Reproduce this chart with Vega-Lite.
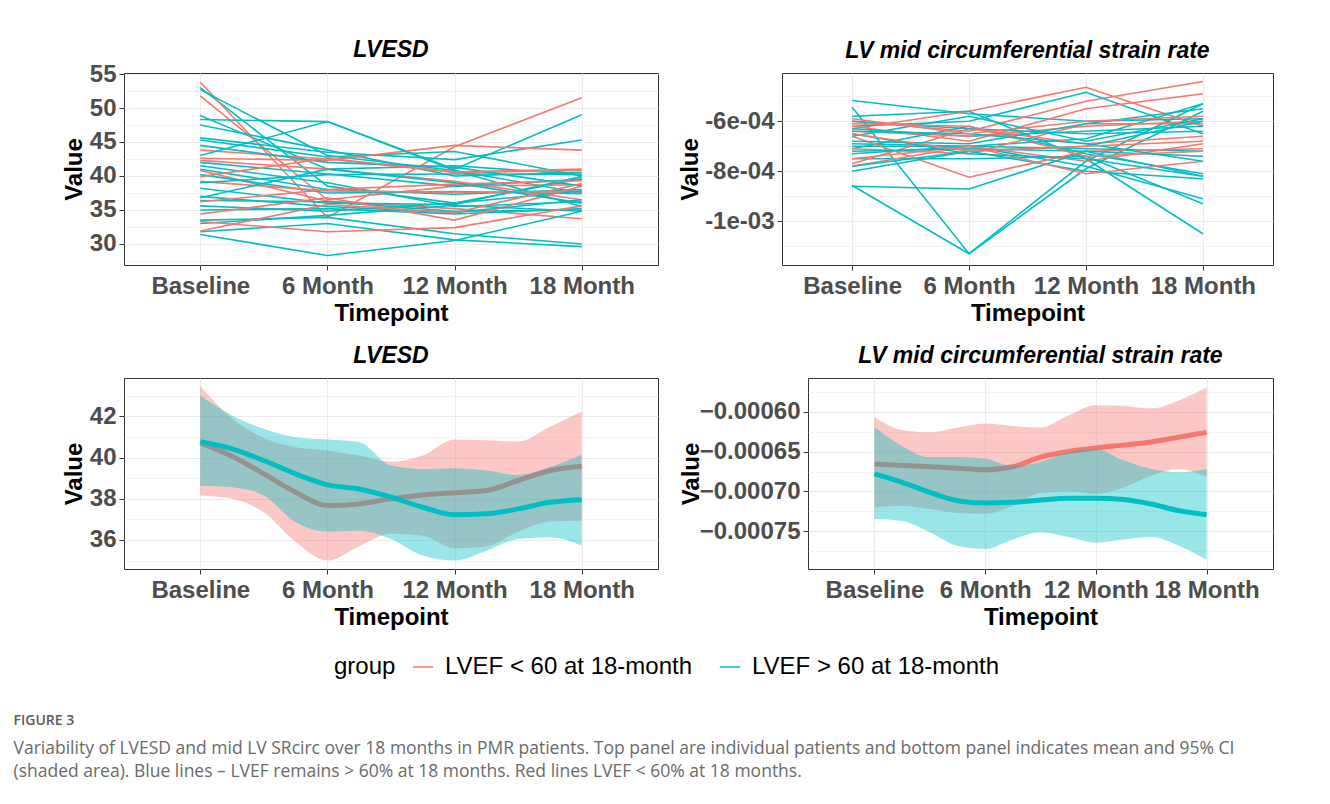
{
  "$schema": "https://vega.github.io/schema/vega-lite/v6.json",
  "background": "white",
  "padding": {"left": 13, "top": 38, "right": 0, "bottom": 0},
  "autosize": {"type": "pad"},
  "config": {
    "font": "Liberation Sans",
    "view": {"stroke": "#333333", "strokeWidth": 1},
    "axis": {"labelFont": "Liberation Sans", "labelFontSize": 24, "labelFontWeight": "bold", "labelColor": "#4D4D4D", "titleFont": "Liberation Sans", "titleFontSize": 24, "titleFontWeight": "bold", "titleColor": "#000000", "tickColor": "#333333", "tickSize": 5, "tickWidth": 1, "domain": false, "gridColor": "#EBEBEB", "gridWidth": 1.1, "labelOverlap": false, "labelFlush": false},
    "axisX": {"labelPadding": 4, "titlePadding": 3, "labelAngle": 0},
    "axisY": {"labelPadding": 3},
    "title": {"font": "Liberation Sans", "fontSize": 23, "fontStyle": "italic", "fontWeight": "bold", "color": "#000000", "baseline": "bottom", "offset": 10, "anchor": "middle"}
  },
  "title": {"text": "FIGURE 3", "subtitle": ["Variability of LVESD and mid LV SRcirc over 18 months in PMR patients. Top panel are individual patients and bottom panel indicates mean and 95% CI", "(shaded area). Blue lines – LVEF remains > 60% at 18 months. Red lines LVEF < 60% at 18 months."], "orient": "bottom", "anchor": "start", "frame": "bounds", "dx": -48, "offset": 35, "font": "Open Sans", "fontSize": 14, "fontWeight": 600, "fontStyle": "normal", "color": "#5a5a5a", "baseline": "top", "subtitleFont": "Open Sans", "subtitleFontSize": 17.5, "subtitleFontWeight": "normal", "subtitleFontStyle": "normal", "subtitleColor": "#6a6a6a", "subtitleLineHeight": 23, "subtitlePadding": 12},
  "datasets": {
    "lvesd": [
      {"id":"t1","g":"LVEF > 60 at 18-month","t":"Baseline","v":53.0},{"id":"t1","g":"LVEF > 60 at 18-month","t":"6 Month","v":38.5},{"id":"t1","g":"LVEF > 60 at 18-month","t":"12 Month","v":36.0},{"id":"t1","g":"LVEF > 60 at 18-month","t":"18 Month","v":39.6},
      {"id":"r1","g":"LVEF < 60 at 18-month","t":"Baseline","v":53.8},{"id":"r1","g":"LVEF < 60 at 18-month","t":"6 Month","v":33.9},{"id":"r1","g":"LVEF < 60 at 18-month","t":"12 Month","v":44.3},{"id":"r1","g":"LVEF < 60 at 18-month","t":"18 Month","v":51.5},
      {"id":"t2","g":"LVEF > 60 at 18-month","t":"Baseline","v":52.7},{"id":"t2","g":"LVEF > 60 at 18-month","t":"6 Month","v":43.0},{"id":"t2","g":"LVEF > 60 at 18-month","t":"12 Month","v":40.8},{"id":"t2","g":"LVEF > 60 at 18-month","t":"18 Month","v":37.5},
      {"id":"t3","g":"LVEF > 60 at 18-month","t":"Baseline","v":48.9},{"id":"t3","g":"LVEF > 60 at 18-month","t":"6 Month","v":41.0},{"id":"t3","g":"LVEF > 60 at 18-month","t":"12 Month","v":41.5},{"id":"t3","g":"LVEF > 60 at 18-month","t":"18 Month","v":40.2},
      {"id":"r2","g":"LVEF < 60 at 18-month","t":"Baseline","v":51.8},{"id":"r2","g":"LVEF < 60 at 18-month","t":"6 Month","v":36.5},{"id":"r2","g":"LVEF < 60 at 18-month","t":"12 Month","v":38.5},{"id":"r2","g":"LVEF < 60 at 18-month","t":"18 Month","v":38.7},
      {"id":"t4","g":"LVEF > 60 at 18-month","t":"Baseline","v":48.3},{"id":"t4","g":"LVEF > 60 at 18-month","t":"6 Month","v":48.0},{"id":"t4","g":"LVEF > 60 at 18-month","t":"12 Month","v":41.0},{"id":"t4","g":"LVEF > 60 at 18-month","t":"18 Month","v":49.0},
      {"id":"t5","g":"LVEF > 60 at 18-month","t":"Baseline","v":47.5},{"id":"t5","g":"LVEF > 60 at 18-month","t":"6 Month","v":43.8},{"id":"t5","g":"LVEF > 60 at 18-month","t":"12 Month","v":40.0},{"id":"t5","g":"LVEF > 60 at 18-month","t":"18 Month","v":40.5},
      {"id":"r3","g":"LVEF < 60 at 18-month","t":"Baseline","v":43.8},{"id":"r3","g":"LVEF < 60 at 18-month","t":"6 Month","v":42.5},{"id":"r3","g":"LVEF < 60 at 18-month","t":"12 Month","v":40.5},{"id":"r3","g":"LVEF < 60 at 18-month","t":"18 Month","v":40.8},
      {"id":"t6","g":"LVEF > 60 at 18-month","t":"Baseline","v":45.6},{"id":"t6","g":"LVEF > 60 at 18-month","t":"6 Month","v":43.5},{"id":"t6","g":"LVEF > 60 at 18-month","t":"12 Month","v":42.4},{"id":"t6","g":"LVEF > 60 at 18-month","t":"18 Month","v":45.3},
      {"id":"t7","g":"LVEF > 60 at 18-month","t":"Baseline","v":45.3},{"id":"t7","g":"LVEF > 60 at 18-month","t":"6 Month","v":42.8},{"id":"t7","g":"LVEF > 60 at 18-month","t":"12 Month","v":43.6},{"id":"t7","g":"LVEF > 60 at 18-month","t":"18 Month","v":40.0},
      {"id":"r4","g":"LVEF < 60 at 18-month","t":"Baseline","v":42.6},{"id":"r4","g":"LVEF < 60 at 18-month","t":"6 Month","v":42.3},{"id":"r4","g":"LVEF < 60 at 18-month","t":"12 Month","v":44.5},{"id":"r4","g":"LVEF < 60 at 18-month","t":"18 Month","v":43.8},
      {"id":"t8","g":"LVEF > 60 at 18-month","t":"Baseline","v":44.5},{"id":"t8","g":"LVEF > 60 at 18-month","t":"6 Month","v":42.0},{"id":"t8","g":"LVEF > 60 at 18-month","t":"12 Month","v":41.3},{"id":"t8","g":"LVEF > 60 at 18-month","t":"18 Month","v":38.5},
      {"id":"t9","g":"LVEF > 60 at 18-month","t":"Baseline","v":43.0},{"id":"t9","g":"LVEF > 60 at 18-month","t":"6 Month","v":48.0},{"id":"t9","g":"LVEF > 60 at 18-month","t":"12 Month","v":40.8},{"id":"t9","g":"LVEF > 60 at 18-month","t":"18 Month","v":35.5},
      {"id":"r5","g":"LVEF < 60 at 18-month","t":"Baseline","v":42.3},{"id":"r5","g":"LVEF < 60 at 18-month","t":"6 Month","v":41.0},{"id":"r5","g":"LVEF < 60 at 18-month","t":"12 Month","v":39.2},{"id":"r5","g":"LVEF < 60 at 18-month","t":"18 Month","v":36.5},
      {"id":"t10","g":"LVEF > 60 at 18-month","t":"Baseline","v":42.0},{"id":"t10","g":"LVEF > 60 at 18-month","t":"6 Month","v":40.3},{"id":"t10","g":"LVEF > 60 at 18-month","t":"12 Month","v":38.5},{"id":"t10","g":"LVEF > 60 at 18-month","t":"18 Month","v":39.5},
      {"id":"t11","g":"LVEF > 60 at 18-month","t":"Baseline","v":41.5},{"id":"t11","g":"LVEF > 60 at 18-month","t":"6 Month","v":39.0},{"id":"t11","g":"LVEF > 60 at 18-month","t":"12 Month","v":35.5},{"id":"t11","g":"LVEF > 60 at 18-month","t":"18 Month","v":36.2},
      {"id":"r6","g":"LVEF < 60 at 18-month","t":"Baseline","v":40.8},{"id":"r6","g":"LVEF < 60 at 18-month","t":"6 Month","v":36.3},{"id":"r6","g":"LVEF < 60 at 18-month","t":"12 Month","v":35.2},{"id":"r6","g":"LVEF < 60 at 18-month","t":"18 Month","v":33.7},
      {"id":"t12","g":"LVEF > 60 at 18-month","t":"Baseline","v":41.0},{"id":"t12","g":"LVEF > 60 at 18-month","t":"6 Month","v":38.0},{"id":"t12","g":"LVEF > 60 at 18-month","t":"12 Month","v":37.3},{"id":"t12","g":"LVEF > 60 at 18-month","t":"18 Month","v":38.0},
      {"id":"t13","g":"LVEF > 60 at 18-month","t":"Baseline","v":40.2},{"id":"t13","g":"LVEF > 60 at 18-month","t":"6 Month","v":37.5},{"id":"t13","g":"LVEF > 60 at 18-month","t":"12 Month","v":37.7},{"id":"t13","g":"LVEF > 60 at 18-month","t":"18 Month","v":37.4},
      {"id":"r7","g":"LVEF < 60 at 18-month","t":"Baseline","v":39.9},{"id":"r7","g":"LVEF < 60 at 18-month","t":"6 Month","v":42.6},{"id":"r7","g":"LVEF < 60 at 18-month","t":"12 Month","v":40.6},{"id":"r7","g":"LVEF < 60 at 18-month","t":"18 Month","v":41.0},
      {"id":"t14","g":"LVEF > 60 at 18-month","t":"Baseline","v":38.2},{"id":"t14","g":"LVEF > 60 at 18-month","t":"6 Month","v":36.0},{"id":"t14","g":"LVEF > 60 at 18-month","t":"12 Month","v":35.8},{"id":"t14","g":"LVEF > 60 at 18-month","t":"18 Month","v":39.9},
      {"id":"t15","g":"LVEF > 60 at 18-month","t":"Baseline","v":37.0},{"id":"t15","g":"LVEF > 60 at 18-month","t":"6 Month","v":35.5},{"id":"t15","g":"LVEF > 60 at 18-month","t":"12 Month","v":34.6},{"id":"t15","g":"LVEF > 60 at 18-month","t":"18 Month","v":36.5},
      {"id":"r8","g":"LVEF < 60 at 18-month","t":"Baseline","v":39.2},{"id":"r8","g":"LVEF < 60 at 18-month","t":"6 Month","v":37.8},{"id":"r8","g":"LVEF < 60 at 18-month","t":"12 Month","v":37.6},{"id":"r8","g":"LVEF < 60 at 18-month","t":"18 Month","v":37.7},
      {"id":"t16","g":"LVEF > 60 at 18-month","t":"Baseline","v":36.4},{"id":"t16","g":"LVEF > 60 at 18-month","t":"6 Month","v":36.2},{"id":"t16","g":"LVEF > 60 at 18-month","t":"12 Month","v":34.8},{"id":"t16","g":"LVEF > 60 at 18-month","t":"18 Month","v":35.0},
      {"id":"t17","g":"LVEF > 60 at 18-month","t":"Baseline","v":35.6},{"id":"t17","g":"LVEF > 60 at 18-month","t":"6 Month","v":34.8},{"id":"t17","g":"LVEF > 60 at 18-month","t":"12 Month","v":36.0},{"id":"t17","g":"LVEF > 60 at 18-month","t":"18 Month","v":37.8},
      {"id":"r9","g":"LVEF < 60 at 18-month","t":"Baseline","v":36.2},{"id":"r9","g":"LVEF < 60 at 18-month","t":"6 Month","v":38.0},{"id":"r9","g":"LVEF < 60 at 18-month","t":"12 Month","v":38.8},{"id":"r9","g":"LVEF < 60 at 18-month","t":"18 Month","v":39.3},
      {"id":"t18","g":"LVEF > 60 at 18-month","t":"Baseline","v":35.0},{"id":"t18","g":"LVEF > 60 at 18-month","t":"6 Month","v":35.2},{"id":"t18","g":"LVEF > 60 at 18-month","t":"12 Month","v":34.4},{"id":"t18","g":"LVEF > 60 at 18-month","t":"18 Month","v":35.2},
      {"id":"t19","g":"LVEF > 60 at 18-month","t":"Baseline","v":33.5},{"id":"t19","g":"LVEF > 60 at 18-month","t":"6 Month","v":33.9},{"id":"t19","g":"LVEF > 60 at 18-month","t":"12 Month","v":31.5},{"id":"t19","g":"LVEF > 60 at 18-month","t":"18 Month","v":30.0},
      {"id":"r10","g":"LVEF < 60 at 18-month","t":"Baseline","v":34.4},{"id":"r10","g":"LVEF < 60 at 18-month","t":"6 Month","v":36.8},{"id":"r10","g":"LVEF < 60 at 18-month","t":"12 Month","v":33.5},{"id":"r10","g":"LVEF < 60 at 18-month","t":"18 Month","v":38.5},
      {"id":"t20","g":"LVEF > 60 at 18-month","t":"Baseline","v":33.0},{"id":"t20","g":"LVEF > 60 at 18-month","t":"6 Month","v":34.2},{"id":"t20","g":"LVEF > 60 at 18-month","t":"12 Month","v":35.7},{"id":"t20","g":"LVEF > 60 at 18-month","t":"18 Month","v":34.8},
      {"id":"t21","g":"LVEF > 60 at 18-month","t":"Baseline","v":31.8},{"id":"t21","g":"LVEF > 60 at 18-month","t":"6 Month","v":33.0},{"id":"t21","g":"LVEF > 60 at 18-month","t":"12 Month","v":30.6},{"id":"t21","g":"LVEF > 60 at 18-month","t":"18 Month","v":29.6},
      {"id":"r11","g":"LVEF < 60 at 18-month","t":"Baseline","v":33.3},{"id":"r11","g":"LVEF < 60 at 18-month","t":"6 Month","v":31.8},{"id":"r11","g":"LVEF < 60 at 18-month","t":"12 Month","v":32.4},{"id":"r11","g":"LVEF < 60 at 18-month","t":"18 Month","v":35.6},
      {"id":"t22","g":"LVEF > 60 at 18-month","t":"Baseline","v":31.4},{"id":"t22","g":"LVEF > 60 at 18-month","t":"6 Month","v":28.3},{"id":"t22","g":"LVEF > 60 at 18-month","t":"12 Month","v":30.5},{"id":"t22","g":"LVEF > 60 at 18-month","t":"18 Month","v":34.8},
      {"id":"t23","g":"LVEF > 60 at 18-month","t":"Baseline","v":36.8},{"id":"t23","g":"LVEF > 60 at 18-month","t":"6 Month","v":41.0},{"id":"t23","g":"LVEF > 60 at 18-month","t":"12 Month","v":39.0},{"id":"t23","g":"LVEF > 60 at 18-month","t":"18 Month","v":36.0},
      {"id":"r12","g":"LVEF < 60 at 18-month","t":"Baseline","v":31.9},{"id":"r12","g":"LVEF < 60 at 18-month","t":"6 Month","v":35.8},{"id":"r12","g":"LVEF < 60 at 18-month","t":"12 Month","v":34.6},{"id":"r12","g":"LVEF < 60 at 18-month","t":"18 Month","v":38.9},
      {"id":"t24","g":"LVEF > 60 at 18-month","t":"Baseline","v":39.0},{"id":"t24","g":"LVEF > 60 at 18-month","t":"6 Month","v":40.2},{"id":"t24","g":"LVEF > 60 at 18-month","t":"12 Month","v":40.3},{"id":"t24","g":"LVEF > 60 at 18-month","t":"18 Month","v":40.2}
    ],
    "sr": [
      {"id":"t1","g":"LVEF > 60 at 18-month","t":"Baseline","v":-0.000517},{"id":"t1","g":"LVEF > 60 at 18-month","t":"6 Month","v":-0.00057},{"id":"t1","g":"LVEF > 60 at 18-month","t":"12 Month","v":-0.0006},{"id":"t1","g":"LVEF > 60 at 18-month","t":"18 Month","v":-0.00059},
      {"id":"r1","g":"LVEF < 60 at 18-month","t":"Baseline","v":-0.00063},{"id":"r1","g":"LVEF < 60 at 18-month","t":"6 Month","v":-0.00056},{"id":"r1","g":"LVEF < 60 at 18-month","t":"12 Month","v":-0.000464},{"id":"r1","g":"LVEF < 60 at 18-month","t":"18 Month","v":-0.00062},
      {"id":"t2","g":"LVEF > 60 at 18-month","t":"Baseline","v":-0.000544},{"id":"t2","g":"LVEF > 60 at 18-month","t":"6 Month","v":-0.00113},{"id":"t2","g":"LVEF > 60 at 18-month","t":"12 Month","v":-0.00076},{"id":"t2","g":"LVEF > 60 at 18-month","t":"18 Month","v":-0.00053},
      {"id":"t3","g":"LVEF > 60 at 18-month","t":"Baseline","v":-0.000857},{"id":"t3","g":"LVEF > 60 at 18-month","t":"6 Month","v":-0.00113},{"id":"t3","g":"LVEF > 60 at 18-month","t":"12 Month","v":-0.00079},{"id":"t3","g":"LVEF > 60 at 18-month","t":"18 Month","v":-0.00056},
      {"id":"r2","g":"LVEF < 60 at 18-month","t":"Baseline","v":-0.0006},{"id":"r2","g":"LVEF < 60 at 18-month","t":"6 Month","v":-0.00064},{"id":"r2","g":"LVEF < 60 at 18-month","t":"12 Month","v":-0.00052},{"id":"r2","g":"LVEF < 60 at 18-month","t":"18 Month","v":-0.000441},
      {"id":"t4","g":"LVEF > 60 at 18-month","t":"Baseline","v":-0.00058},{"id":"t4","g":"LVEF > 60 at 18-month","t":"6 Month","v":-0.00056},{"id":"t4","g":"LVEF > 60 at 18-month","t":"12 Month","v":-0.00075},{"id":"t4","g":"LVEF > 60 at 18-month","t":"18 Month","v":-0.00105},
      {"id":"t5","g":"LVEF > 60 at 18-month","t":"Baseline","v":-0.00062},{"id":"t5","g":"LVEF > 60 at 18-month","t":"6 Month","v":-0.0006},{"id":"t5","g":"LVEF > 60 at 18-month","t":"12 Month","v":-0.000484},{"id":"t5","g":"LVEF > 60 at 18-month","t":"18 Month","v":-0.00065},
      {"id":"r3","g":"LVEF < 60 at 18-month","t":"Baseline","v":-0.00062},{"id":"r3","g":"LVEF < 60 at 18-month","t":"6 Month","v":-0.00068},{"id":"r3","g":"LVEF < 60 at 18-month","t":"12 Month","v":-0.00055},{"id":"r3","g":"LVEF < 60 at 18-month","t":"18 Month","v":-0.00049},
      {"id":"t6","g":"LVEF > 60 at 18-month","t":"Baseline","v":-0.00063},{"id":"t6","g":"LVEF > 60 at 18-month","t":"6 Month","v":-0.00066},{"id":"t6","g":"LVEF > 60 at 18-month","t":"12 Month","v":-0.00064},{"id":"t6","g":"LVEF > 60 at 18-month","t":"18 Month","v":-0.00062},
      {"id":"t7","g":"LVEF > 60 at 18-month","t":"Baseline","v":-0.00069},{"id":"t7","g":"LVEF > 60 at 18-month","t":"6 Month","v":-0.0007},{"id":"t7","g":"LVEF > 60 at 18-month","t":"12 Month","v":-0.00067},{"id":"t7","g":"LVEF > 60 at 18-month","t":"18 Month","v":-0.00053},
      {"id":"r4","g":"LVEF < 60 at 18-month","t":"Baseline","v":-0.00064},{"id":"r4","g":"LVEF < 60 at 18-month","t":"6 Month","v":-0.00066},{"id":"r4","g":"LVEF < 60 at 18-month","t":"12 Month","v":-0.00062},{"id":"r4","g":"LVEF < 60 at 18-month","t":"18 Month","v":-0.0006},
      {"id":"t8","g":"LVEF > 60 at 18-month","t":"Baseline","v":-0.0007},{"id":"t8","g":"LVEF > 60 at 18-month","t":"6 Month","v":-0.0007},{"id":"t8","g":"LVEF > 60 at 18-month","t":"12 Month","v":-0.00071},{"id":"t8","g":"LVEF > 60 at 18-month","t":"18 Month","v":-0.00072},
      {"id":"t9","g":"LVEF > 60 at 18-month","t":"Baseline","v":-0.00071},{"id":"t9","g":"LVEF > 60 at 18-month","t":"6 Month","v":-0.00062},{"id":"t9","g":"LVEF > 60 at 18-month","t":"12 Month","v":-0.00073},{"id":"t9","g":"LVEF > 60 at 18-month","t":"18 Month","v":-0.00081},
      {"id":"r5","g":"LVEF < 60 at 18-month","t":"Baseline","v":-0.00071},{"id":"r5","g":"LVEF < 60 at 18-month","t":"6 Month","v":-0.00073},{"id":"r5","g":"LVEF < 60 at 18-month","t":"12 Month","v":-0.00061},{"id":"r5","g":"LVEF < 60 at 18-month","t":"18 Month","v":-0.00061},
      {"id":"t10","g":"LVEF > 60 at 18-month","t":"Baseline","v":-0.00073},{"id":"t10","g":"LVEF > 60 at 18-month","t":"6 Month","v":-0.0007},{"id":"t10","g":"LVEF > 60 at 18-month","t":"12 Month","v":-0.00078},{"id":"t10","g":"LVEF > 60 at 18-month","t":"18 Month","v":-0.00091},
      {"id":"t11","g":"LVEF > 60 at 18-month","t":"Baseline","v":-0.00075},{"id":"t11","g":"LVEF > 60 at 18-month","t":"6 Month","v":-0.00075},{"id":"t11","g":"LVEF > 60 at 18-month","t":"12 Month","v":-0.00074},{"id":"t11","g":"LVEF > 60 at 18-month","t":"18 Month","v":-0.00093},
      {"id":"r6","g":"LVEF < 60 at 18-month","t":"Baseline","v":-0.00066},{"id":"r6","g":"LVEF < 60 at 18-month","t":"6 Month","v":-0.000824},{"id":"r6","g":"LVEF < 60 at 18-month","t":"12 Month","v":-0.00072},{"id":"r6","g":"LVEF < 60 at 18-month","t":"18 Month","v":-0.00071},
      {"id":"t12","g":"LVEF > 60 at 18-month","t":"Baseline","v":-0.0008},{"id":"t12","g":"LVEF > 60 at 18-month","t":"6 Month","v":-0.00072},{"id":"t12","g":"LVEF > 60 at 18-month","t":"12 Month","v":-0.0008},{"id":"t12","g":"LVEF > 60 at 18-month","t":"18 Month","v":-0.00083},
      {"id":"t13","g":"LVEF > 60 at 18-month","t":"Baseline","v":-0.00086},{"id":"t13","g":"LVEF > 60 at 18-month","t":"6 Month","v":-0.000871},{"id":"t13","g":"LVEF > 60 at 18-month","t":"12 Month","v":-0.00072},{"id":"t13","g":"LVEF > 60 at 18-month","t":"18 Month","v":-0.00082},
      {"id":"r7","g":"LVEF < 60 at 18-month","t":"Baseline","v":-0.00077},{"id":"r7","g":"LVEF < 60 at 18-month","t":"6 Month","v":-0.00063},{"id":"r7","g":"LVEF < 60 at 18-month","t":"12 Month","v":-0.00069},{"id":"r7","g":"LVEF < 60 at 18-month","t":"18 Month","v":-0.00066},
      {"id":"t14","g":"LVEF > 60 at 18-month","t":"Baseline","v":-0.00066},{"id":"t14","g":"LVEF > 60 at 18-month","t":"6 Month","v":-0.00058},{"id":"t14","g":"LVEF > 60 at 18-month","t":"12 Month","v":-0.00068},{"id":"t14","g":"LVEF > 60 at 18-month","t":"18 Month","v":-0.00059},
      {"id":"t15","g":"LVEF > 60 at 18-month","t":"Baseline","v":-0.0006},{"id":"t15","g":"LVEF > 60 at 18-month","t":"6 Month","v":-0.00063},{"id":"t15","g":"LVEF > 60 at 18-month","t":"12 Month","v":-0.00065},{"id":"t15","g":"LVEF > 60 at 18-month","t":"18 Month","v":-0.00064},
      {"id":"r8","g":"LVEF < 60 at 18-month","t":"Baseline","v":-0.00075},{"id":"r8","g":"LVEF < 60 at 18-month","t":"6 Month","v":-0.0007},{"id":"r8","g":"LVEF < 60 at 18-month","t":"12 Month","v":-0.00081},{"id":"r8","g":"LVEF < 60 at 18-month","t":"18 Month","v":-0.00076},
      {"id":"t16","g":"LVEF > 60 at 18-month","t":"Baseline","v":-0.00072},{"id":"t16","g":"LVEF > 60 at 18-month","t":"6 Month","v":-0.00071},{"id":"t16","g":"LVEF > 60 at 18-month","t":"12 Month","v":-0.00072},{"id":"t16","g":"LVEF > 60 at 18-month","t":"18 Month","v":-0.00074},
      {"id":"t17","g":"LVEF > 60 at 18-month","t":"Baseline","v":-0.00068},{"id":"t17","g":"LVEF > 60 at 18-month","t":"6 Month","v":-0.00069},{"id":"t17","g":"LVEF > 60 at 18-month","t":"12 Month","v":-0.00061},{"id":"t17","g":"LVEF > 60 at 18-month","t":"18 Month","v":-0.00055},
      {"id":"r9","g":"LVEF < 60 at 18-month","t":"Baseline","v":-0.00078},{"id":"r9","g":"LVEF < 60 at 18-month","t":"6 Month","v":-0.0007},{"id":"r9","g":"LVEF < 60 at 18-month","t":"12 Month","v":-0.00076},{"id":"r9","g":"LVEF < 60 at 18-month","t":"18 Month","v":-0.00069},
      {"id":"t18","g":"LVEF > 60 at 18-month","t":"Baseline","v":-0.00065},{"id":"t18","g":"LVEF > 60 at 18-month","t":"6 Month","v":-0.00073},{"id":"t18","g":"LVEF > 60 at 18-month","t":"12 Month","v":-0.00075},{"id":"t18","g":"LVEF > 60 at 18-month","t":"18 Month","v":-0.00082},
      {"id":"t19","g":"LVEF > 60 at 18-month","t":"Baseline","v":-0.00078},{"id":"t19","g":"LVEF > 60 at 18-month","t":"6 Month","v":-0.00072},{"id":"t19","g":"LVEF > 60 at 18-month","t":"12 Month","v":-0.0007},{"id":"t19","g":"LVEF > 60 at 18-month","t":"18 Month","v":-0.0006},
      {"id":"r10","g":"LVEF < 60 at 18-month","t":"Baseline","v":-0.00061},{"id":"r10","g":"LVEF < 60 at 18-month","t":"6 Month","v":-0.00062},{"id":"r10","g":"LVEF < 60 at 18-month","t":"12 Month","v":-0.00074},{"id":"r10","g":"LVEF < 60 at 18-month","t":"18 Month","v":-0.00072},
      {"id":"t20","g":"LVEF > 60 at 18-month","t":"Baseline","v":-0.00064},{"id":"t20","g":"LVEF > 60 at 18-month","t":"6 Month","v":-0.00065},{"id":"t20","g":"LVEF > 60 at 18-month","t":"12 Month","v":-0.00069},{"id":"t20","g":"LVEF > 60 at 18-month","t":"18 Month","v":-0.00076},
      {"id":"r11","g":"LVEF < 60 at 18-month","t":"Baseline","v":-0.00059},{"id":"r11","g":"LVEF < 60 at 18-month","t":"6 Month","v":-0.00065},{"id":"r11","g":"LVEF < 60 at 18-month","t":"12 Month","v":-0.0006},{"id":"r11","g":"LVEF < 60 at 18-month","t":"18 Month","v":-0.00058},
      {"id":"r12","g":"LVEF < 60 at 18-month","t":"Baseline","v":-0.00065},{"id":"r12","g":"LVEF < 60 at 18-month","t":"6 Month","v":-0.00072},{"id":"r12","g":"LVEF < 60 at 18-month","t":"12 Month","v":-0.0007},{"id":"r12","g":"LVEF < 60 at 18-month","t":"18 Month","v":-0.00068}
    ],
    "lvesd_s": [
      {"g":"LVEF < 60 at 18-month","x":1,"m":40.72,"lo":38.16,"hi":43.48},
      {"g":"LVEF < 60 at 18-month","x":1.25,"m":40.07,"lo":38.0,"hi":41.9},
      {"g":"LVEF < 60 at 18-month","x":1.5,"m":39.21,"lo":37.35,"hi":40.95},
      {"g":"LVEF < 60 at 18-month","x":1.75,"m":38.32,"lo":35.9,"hi":40.5},
      {"g":"LVEF < 60 at 18-month","x":2,"m":37.67,"lo":35.0,"hi":40.35},
      {"g":"LVEF < 60 at 18-month","x":2.25,"m":37.75,"lo":35.7,"hi":40.1},
      {"g":"LVEF < 60 at 18-month","x":2.5,"m":38.0,"lo":36.3,"hi":39.8},
      {"g":"LVEF < 60 at 18-month","x":2.75,"m":38.19,"lo":36.2,"hi":40.1},
      {"g":"LVEF < 60 at 18-month","x":3,"m":38.29,"lo":35.6,"hi":40.88},
      {"g":"LVEF < 60 at 18-month","x":3.25,"m":38.4,"lo":35.7,"hi":40.85},
      {"g":"LVEF < 60 at 18-month","x":3.5,"m":38.89,"lo":36.4,"hi":40.78},
      {"g":"LVEF < 60 at 18-month","x":3.75,"m":39.37,"lo":36.9,"hi":41.5},
      {"g":"LVEF < 60 at 18-month","x":4,"m":39.58,"lo":36.94,"hi":42.24},
      {"g":"LVEF > 60 at 18-month","x":1,"m":40.78,"lo":38.64,"hi":43.02},
      {"g":"LVEF > 60 at 18-month","x":1.25,"m":40.43,"lo":38.56,"hi":42.05},
      {"g":"LVEF > 60 at 18-month","x":1.5,"m":39.86,"lo":38.16,"hi":41.4},
      {"g":"LVEF > 60 at 18-month","x":1.75,"m":39.21,"lo":36.86,"hi":40.99},
      {"g":"LVEF > 60 at 18-month","x":2,"m":38.68,"lo":36.41,"hi":40.88},
      {"g":"LVEF > 60 at 18-month","x":2.25,"m":38.48,"lo":36.45,"hi":40.75},
      {"g":"LVEF > 60 at 18-month","x":2.5,"m":38.08,"lo":36.05,"hi":39.62},
      {"g":"LVEF > 60 at 18-month","x":2.75,"m":37.59,"lo":35.24,"hi":39.45},
      {"g":"LVEF > 60 at 18-month","x":3,"m":37.22,"lo":35.0,"hi":39.49},
      {"g":"LVEF > 60 at 18-month","x":3.25,"m":37.27,"lo":35.48,"hi":39.37},
      {"g":"LVEF > 60 at 18-month","x":3.5,"m":37.51,"lo":36.05,"hi":39.16},
      {"g":"LVEF > 60 at 18-month","x":3.75,"m":37.83,"lo":36.13,"hi":39.54},
      {"g":"LVEF > 60 at 18-month","x":4,"m":37.96,"lo":35.73,"hi":40.14}
    ],
    "sr_s": [
      {"g":"LVEF < 60 at 18-month","x":1,"m":-0.0006656,"lo":-0.00072,"hi":-0.000607},
      {"g":"LVEF < 60 at 18-month","x":1.25,"m":-0.0006675,"lo":-0.000718,"hi":-0.000623},
      {"g":"LVEF < 60 at 18-month","x":1.5,"m":-0.000669,"lo":-0.000722,"hi":-0.000626},
      {"g":"LVEF < 60 at 18-month","x":1.75,"m":-0.000671,"lo":-0.000727,"hi":-0.00062},
      {"g":"LVEF < 60 at 18-month","x":2,"m":-0.0006727,"lo":-0.000728,"hi":-0.000615},
      {"g":"LVEF < 60 at 18-month","x":2.25,"m":-0.000669,"lo":-0.000718,"hi":-0.000618},
      {"g":"LVEF < 60 at 18-month","x":2.5,"m":-0.000657,"lo":-0.000702,"hi":-0.00062},
      {"g":"LVEF < 60 at 18-month","x":2.75,"m":-0.00065,"lo":-0.0007,"hi":-0.000605},
      {"g":"LVEF < 60 at 18-month","x":3,"m":-0.0006455,"lo":-0.000703,"hi":-0.000592},
      {"g":"LVEF < 60 at 18-month","x":3.25,"m":-0.000642,"lo":-0.000695,"hi":-0.000593},
      {"g":"LVEF < 60 at 18-month","x":3.5,"m":-0.000638,"lo":-0.00068,"hi":-0.000596},
      {"g":"LVEF < 60 at 18-month","x":3.75,"m":-0.000632,"lo":-0.000672,"hi":-0.000586},
      {"g":"LVEF < 60 at 18-month","x":4,"m":-0.000626,"lo":-0.000682,"hi":-0.00057},
      {"g":"LVEF > 60 at 18-month","x":1,"m":-0.000678,"lo":-0.0007345,"hi":-0.0006196},
      {"g":"LVEF > 60 at 18-month","x":1.25,"m":-0.0006885,"lo":-0.000737,"hi":-0.000643},
      {"g":"LVEF > 60 at 18-month","x":1.5,"m":-0.000701,"lo":-0.000751,"hi":-0.000657},
      {"g":"LVEF > 60 at 18-month","x":1.75,"m":-0.0007115,"lo":-0.000768,"hi":-0.000657},
      {"g":"LVEF > 60 at 18-month","x":2,"m":-0.0007145,"lo":-0.000772,"hi":-0.000659},
      {"g":"LVEF > 60 at 18-month","x":2.25,"m":-0.0007136,"lo":-0.00076,"hi":-0.000668},
      {"g":"LVEF > 60 at 18-month","x":2.5,"m":-0.0007107,"lo":-0.000751,"hi":-0.000663},
      {"g":"LVEF > 60 at 18-month","x":2.75,"m":-0.0007086,"lo":-0.000757,"hi":-0.000651},
      {"g":"LVEF > 60 at 18-month","x":3,"m":-0.0007086,"lo":-0.000764,"hi":-0.000647},
      {"g":"LVEF > 60 at 18-month","x":3.25,"m":-0.00071,"lo":-0.00076,"hi":-0.000661},
      {"g":"LVEF > 60 at 18-month","x":3.5,"m":-0.0007157,"lo":-0.000757,"hi":-0.000672},
      {"g":"LVEF > 60 at 18-month","x":3.75,"m":-0.000724,"lo":-0.000768,"hi":-0.000676},
      {"g":"LVEF > 60 at 18-month","x":4,"m":-0.000729,"lo":-0.0007855,"hi":-0.000672}
    ]
  },
  "spacing": 18,
  "vconcat": [
    {
      "spacing": 18,
      "hconcat": [
        {
          "width": 534, "height": 192,
          "title": {"text": "LVESD", "dy": 10},
          "data": {"name": "lvesd"},
          "mark": {"type": "line", "strokeWidth": 1.6},
          "encoding": {
            "x": {"field": "t", "type": "ordinal", "sort": ["Baseline", "6 Month", "12 Month", "18 Month"], "scale": {"type": "point", "padding": 0.6}, "axis": {"title": "Timepoint", "grid": true}},
            "y": {"field": "v", "type": "quantitative", "scale": {"domain": [26.9, 55.15], "nice": false, "zero": false}, "axis": {"title": "Value", "values": [27.5, 30, 32.5, 35, 37.5, 40, 42.5, 45, 47.5, 50, 52.5, 55], "format": "d", "labelExpr": "datum.value % 5 === 0 ? datum.label : ''", "tickOpacity": {"condition": {"test": "datum.value % 5 !== 0", "value": 0}, "value": 1}, "gridWidth": {"condition": {"test": "datum.value % 5 !== 0", "value": 0.55}, "value": 1.1}, "minExtent": 35, "maxExtent": 35, "titlePadding": 3}},
            "color": {"field": "g", "type": "nominal", "scale": {"domain": ["LVEF < 60 at 18-month", "LVEF > 60 at 18-month"], "range": ["#F8766D", "#00BFC4"]}, "legend": {"title": "group", "orient": "none", "legendX": 210, "legendY": 582, "direction": "horizontal", "titleOrient": "left", "titleFont": "Liberation Sans", "titleFontSize": 24, "titleFontWeight": "normal", "titleColor": "#000000", "titlePadding": 15, "labelFont": "Liberation Sans", "labelFontSize": 24, "labelColor": "#000000", "labelLimit": 400, "labelOffset": 10, "columnPadding": 22, "symbolType": "stroke", "symbolSize": 420, "symbolStrokeWidth": 2, "symbolOpacity": 0.75}},
            "detail": {"field": "id", "type": "nominal"}
          }
        },
        {
          "width": 491, "height": 192,
          "title": "LV mid circumferential strain rate",
          "data": {"name": "sr"},
          "mark": {"type": "line", "strokeWidth": 1.6},
          "encoding": {
            "x": {"field": "t", "type": "ordinal", "sort": ["Baseline", "6 Month", "12 Month", "18 Month"], "scale": {"type": "point", "padding": 0.6}, "axis": {"title": "Timepoint", "grid": true}},
            "y": {"field": "v", "type": "quantitative", "scale": {"domain": [-0.001175, -0.000407], "nice": false, "zero": false}, "axis": {"title": "Value", "values": [-0.0011, -0.001, -0.0009, -0.0008, -0.0007, -0.0006, -0.0005], "labelExpr": "round(datum.value*10000) === -6 ? '-6e-04' : round(datum.value*10000) === -8 ? '-8e-04' : round(datum.value*10000) === -10 ? '-1e-03' : ''", "tickOpacity": {"condition": {"test": "abs(round(datum.value*10000)) % 2 === 1", "value": 0}, "value": 1}, "gridWidth": {"condition": {"test": "abs(round(datum.value*10000)) % 2 === 1", "value": 0.55}, "value": 1.1}, "minExtent": 76, "maxExtent": 76, "titlePadding": 4}},
            "color": {"field": "g", "type": "nominal", "scale": {"domain": ["LVEF < 60 at 18-month", "LVEF > 60 at 18-month"], "range": ["#F8766D", "#00BFC4"]}, "legend": {"title": "group", "orient": "none", "legendX": 210, "legendY": 582, "direction": "horizontal", "titleOrient": "left", "titleFont": "Liberation Sans", "titleFontSize": 24, "titleFontWeight": "normal", "titleColor": "#000000", "titlePadding": 15, "labelFont": "Liberation Sans", "labelFontSize": 24, "labelColor": "#000000", "labelLimit": 400, "labelOffset": 10, "columnPadding": 22, "symbolType": "stroke", "symbolSize": 420, "symbolStrokeWidth": 2, "symbolOpacity": 0.75}},
            "detail": {"field": "id", "type": "nominal"}
          }
        }
      ]
    },
    {
      "spacing": 19,
      "hconcat": [
        {
          "width": 534, "height": 191,
          "title": "LVESD",
          "data": {"name": "lvesd_s"},
          "encoding": {
            "x": {"field": "x", "type": "quantitative", "scale": {"domain": [0.4, 4.6], "nice": false, "zero": false}, "axis": {"title": "Timepoint", "grid": true, "values": [1, 2, 3, 4], "labelExpr": "datum.value == 1 ? 'Baseline' : datum.value == 2 ? '6 Month' : datum.value == 3 ? '12 Month' : '18 Month'"}},
            "y": {"field": "m", "type": "quantitative", "scale": {"domain": [34.59, 43.87], "nice": false, "zero": false}, "axis": {"title": "Value", "values": [35, 36, 37, 38, 39, 40, 41, 42, 43], "format": "d", "labelExpr": "datum.value % 2 === 0 ? datum.label : ''", "tickOpacity": {"condition": {"test": "datum.value % 2 !== 0", "value": 0}, "value": 1}, "gridWidth": {"condition": {"test": "datum.value % 2 !== 0", "value": 0.55}, "value": 1.1}, "minExtent": 35, "maxExtent": 35, "titlePadding": 3}},
            "color": {"field": "g", "type": "nominal", "scale": {"domain": ["LVEF < 60 at 18-month", "LVEF > 60 at 18-month"], "range": ["#F8766D", "#00BFC4"]}, "legend": null}
          },
          "layer": [
            {"transform": [{"filter": "datum.g === 'LVEF < 60 at 18-month'"}], "mark": {"type": "area", "opacity": 0.4, "interpolate": "monotone"},
             "encoding": {"y": {"field": "lo", "type": "quantitative", "scale": {"domain": [34.59, 43.87], "nice": false, "zero": false}, "axis": {"title": "Value", "values": [35, 36, 37, 38, 39, 40, 41, 42, 43], "format": "d", "labelExpr": "datum.value % 2 === 0 ? datum.label : ''", "tickOpacity": {"condition": {"test": "datum.value % 2 !== 0", "value": 0}, "value": 1}, "gridWidth": {"condition": {"test": "datum.value % 2 !== 0", "value": 0.55}, "value": 1.1}, "minExtent": 35, "maxExtent": 35, "titlePadding": 3}}, "y2": {"field": "hi"}}},
            {"transform": [{"filter": "datum.g === 'LVEF < 60 at 18-month'"}], "mark": {"type": "line", "strokeWidth": 5, "interpolate": "monotone"}},
            {"transform": [{"filter": "datum.g === 'LVEF > 60 at 18-month'"}], "mark": {"type": "area", "opacity": 0.4, "interpolate": "monotone"},
             "encoding": {"y": {"field": "lo", "type": "quantitative", "scale": {"domain": [34.59, 43.87], "nice": false, "zero": false}, "axis": {"title": "Value", "values": [35, 36, 37, 38, 39, 40, 41, 42, 43], "format": "d", "labelExpr": "datum.value % 2 === 0 ? datum.label : ''", "tickOpacity": {"condition": {"test": "datum.value % 2 !== 0", "value": 0}, "value": 1}, "gridWidth": {"condition": {"test": "datum.value % 2 !== 0", "value": 0.55}, "value": 1.1}, "minExtent": 35, "maxExtent": 35, "titlePadding": 3}}, "y2": {"field": "hi"}}},
            {"transform": [{"filter": "datum.g === 'LVEF > 60 at 18-month'"}], "mark": {"type": "line", "strokeWidth": 5, "interpolate": "monotone"}}
          ]
        },
        {
          "width": 465, "height": 191,
          "title": "LV mid circumferential strain rate",
          "data": {"name": "sr_s"},
          "encoding": {
            "x": {"field": "x", "type": "quantitative", "scale": {"domain": [0.4, 4.6], "nice": false, "zero": false}, "axis": {"title": "Timepoint", "grid": true, "values": [1, 2, 3, 4], "labelExpr": "datum.value == 1 ? 'Baseline' : datum.value == 2 ? '6 Month' : datum.value == 3 ? '12 Month' : '18 Month'"}},
            "y": {"field": "m", "type": "quantitative", "scale": {"domain": [-0.000797, -0.000558], "nice": false, "zero": false}, "axis": {"title": "Value", "values": [-0.000775, -0.00075, -0.000725, -0.0007, -0.000675, -0.00065, -0.000625, -0.0006, -0.000575], "format": ".5f", "labelExpr": "abs(round(datum.value*1000000)) % 50 === 0 ? datum.label : ''", "tickOpacity": {"condition": {"test": "abs(round(datum.value*1000000)) % 50 !== 0", "value": 0}, "value": 1}, "gridWidth": {"condition": {"test": "abs(round(datum.value*1000000)) % 50 !== 0", "value": 0.55}, "value": 1.1}, "minExtent": 101, "maxExtent": 101, "titlePadding": 4}},
            "color": {"field": "g", "type": "nominal", "scale": {"domain": ["LVEF < 60 at 18-month", "LVEF > 60 at 18-month"], "range": ["#F8766D", "#00BFC4"]}, "legend": null}
          },
          "layer": [
            {"transform": [{"filter": "datum.g === 'LVEF < 60 at 18-month'"}], "mark": {"type": "area", "opacity": 0.4, "interpolate": "monotone"},
             "encoding": {"y": {"field": "lo", "type": "quantitative", "scale": {"domain": [-0.000797, -0.000558], "nice": false, "zero": false}, "axis": {"title": "Value", "values": [-0.000775, -0.00075, -0.000725, -0.0007, -0.000675, -0.00065, -0.000625, -0.0006, -0.000575], "format": ".5f", "labelExpr": "abs(round(datum.value*1000000)) % 50 === 0 ? datum.label : ''", "tickOpacity": {"condition": {"test": "abs(round(datum.value*1000000)) % 50 !== 0", "value": 0}, "value": 1}, "gridWidth": {"condition": {"test": "abs(round(datum.value*1000000)) % 50 !== 0", "value": 0.55}, "value": 1.1}, "minExtent": 101, "maxExtent": 101, "titlePadding": 4}}, "y2": {"field": "hi"}}},
            {"transform": [{"filter": "datum.g === 'LVEF < 60 at 18-month'"}], "mark": {"type": "line", "strokeWidth": 5, "interpolate": "monotone"}},
            {"transform": [{"filter": "datum.g === 'LVEF > 60 at 18-month'"}], "mark": {"type": "area", "opacity": 0.4, "interpolate": "monotone"},
             "encoding": {"y": {"field": "lo", "type": "quantitative", "scale": {"domain": [-0.000797, -0.000558], "nice": false, "zero": false}, "axis": {"title": "Value", "values": [-0.000775, -0.00075, -0.000725, -0.0007, -0.000675, -0.00065, -0.000625, -0.0006, -0.000575], "format": ".5f", "labelExpr": "abs(round(datum.value*1000000)) % 50 === 0 ? datum.label : ''", "tickOpacity": {"condition": {"test": "abs(round(datum.value*1000000)) % 50 !== 0", "value": 0}, "value": 1}, "gridWidth": {"condition": {"test": "abs(round(datum.value*1000000)) % 50 !== 0", "value": 0.55}, "value": 1.1}, "minExtent": 101, "maxExtent": 101, "titlePadding": 4}}, "y2": {"field": "hi"}}},
            {"transform": [{"filter": "datum.g === 'LVEF > 60 at 18-month'"}], "mark": {"type": "line", "strokeWidth": 5, "interpolate": "monotone"}}
          ]
        }
      ]
    }
  ]
}
